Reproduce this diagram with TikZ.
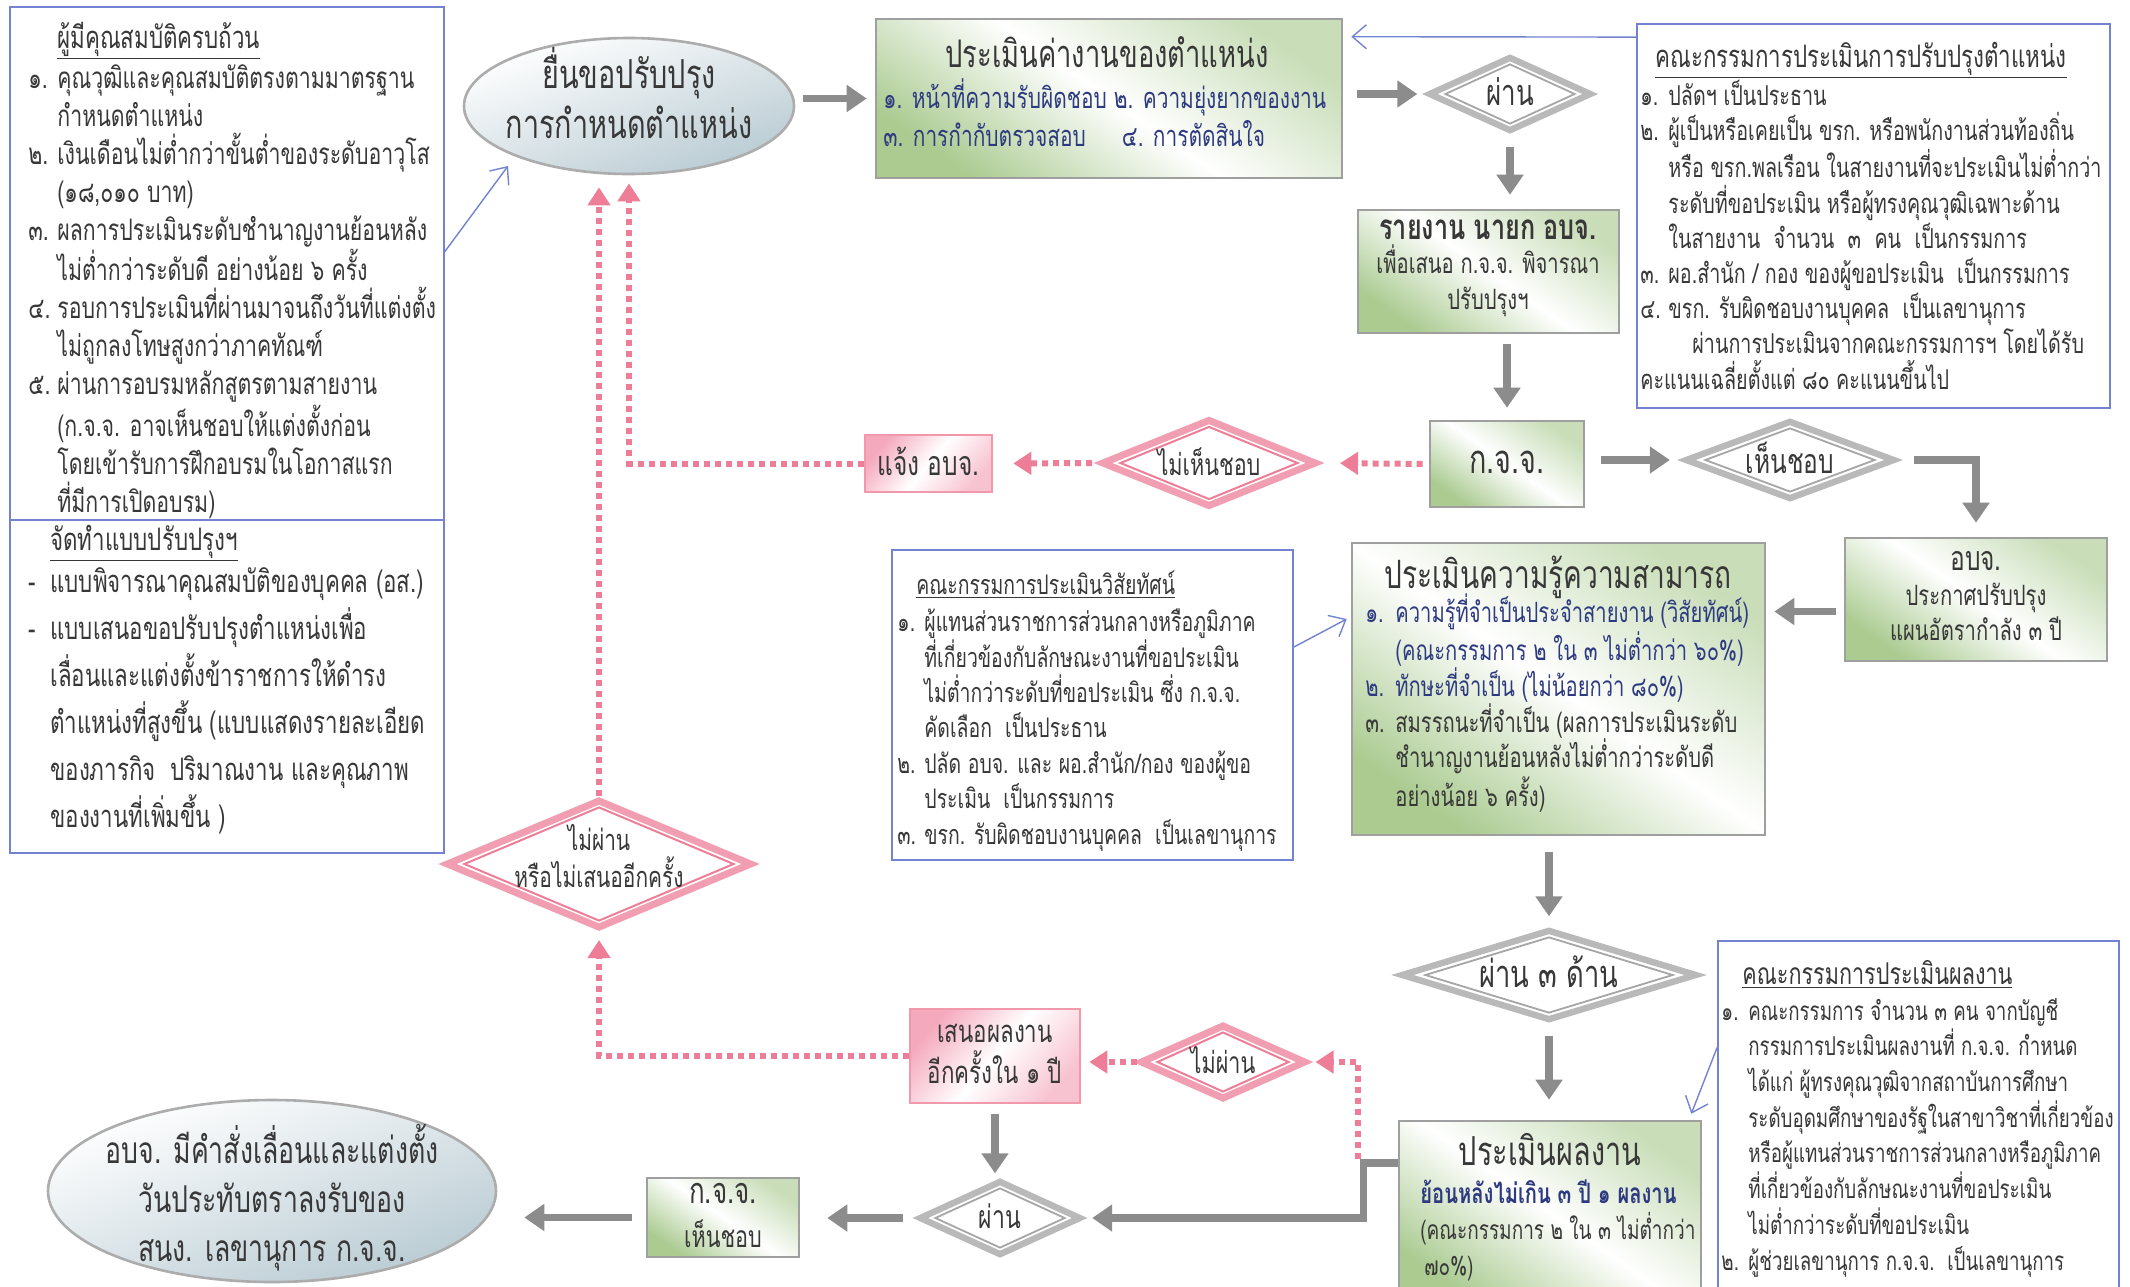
\documentclass[tikz,border=0pt]{standalone}
\usepackage{fontspec}
\newfontfamily\thaiA[Script=Thai,FakeStretch=0.78]{Loma}
\newfontfamily\thaiB[Script=Thai,FakeStretch=0.72]{Loma}
\usetikzlibrary{arrows.meta,shapes.geometric,calc}
\definecolor{boxgreen}{HTML}{9CC27E}
\definecolor{pinkc}{HTML}{EE7E98}
\definecolor{pinkfill}{HTML}{F5A9BD}
\definecolor{blueline}{HTML}{7383D2}
\definecolor{navy}{HTML}{2E3A80}
\definecolor{textgray}{HTML}{383838}
\definecolor{arrowgray}{HTML}{8C8C8C}
\definecolor{ovalc}{HTML}{B9CBD3}
\newcommand{\nb}[2]{\makebox[#1][l]{#2}}
\newcommand{\fs}[2]{\fontsize{#1}{#2}\selectfont}
\begin{document}
\begin{tikzpicture}[x=0.5pt,y=-0.5pt,
 bluebox/.style={draw=blueline, line width=0.9pt, fill=white, inner sep=0pt},
 greenbox/.style={draw=gray!75, line width=1.3pt, top color=boxgreen!55, bottom color=boxgreen!85, middle color=white, shading angle=-35, inner sep=0pt},
 pinkbox/.style={draw=pinkc!80, line width=1.3pt, top color=pinkfill, bottom color=pinkfill!70, middle color=white, shading angle=50, inner sep=0pt},
 ovalbox/.style={ellipse, draw=gray!65, line width=1.3pt, top color=white, bottom color=ovalc, shading angle=20, inner sep=0pt},
 gdiam/.style={diamond, draw=gray!55, line width=3.2pt, fill=white, inner sep=0pt},
 gdiamin/.style={diamond, draw=gray!70, line width=0.9pt, inner sep=0pt},
 pdiam/.style={diamond, draw=pinkc!75, line width=3.5pt, fill=white, inner sep=0pt},
 pdiamin/.style={diamond, draw=pinkc, line width=1pt, inner sep=0pt},
 txt/.style={inner sep=0pt, align=left, text=textgray, anchor=base west},
 ctxt/.style={inner sep=0pt, align=center, text=textgray},
 garrow/.style={draw=arrowgray, line width=3.6pt, -{Triangle[length=10pt,width=13pt]}},
 pdot/.style={draw=pinkc, line width=3pt, dash pattern=on 3pt off 2.5pt, -{Triangle[length=9pt,width=11pt]}},
 barrow/.style={draw=blueline, line width=0.7pt, -{Straight Barb[length=7pt,width=12pt]}}]

\fill[white] (0,0) rectangle (2130,1286);
\path[use as bounding box] (0,0) rectangle (2130,1286);

% ---------- left box ----------
\node[bluebox, minimum width=217pt, minimum height=256.5pt] (lboxA) at (227,263.5) {};
\node[bluebox, minimum width=217pt, minimum height=166.5pt] (lboxB) at (227,686.5) {};
\node[txt, font=\thaiB\fs{15.5}{19.25}] (lAt) at (57,48) {\underline{ผู้มีคุณสมบัติครบถ้วน}};
\node[txt, font=\thaiB\fs{14.8}{19}] (lAl) at (28,512) {%
\nb{14.5pt}{๑.}คุณวุฒิและคุณสมบัติตรงตามมาตรฐาน\\
\hspace*{14.5pt}กำหนดตำแหน่ง\\
\nb{14.5pt}{๒.}เงินเดือนไม่ต่ำกว่าขั้นต่ำของระดับอาวุโส\\
\hspace*{14.5pt}(๑๘,๐๑๐ บาท)\\
\nb{14.5pt}{๓.}ผลการประเมินระดับชำนาญงานย้อนหลัง\\
\hspace*{14.5pt}ไม่ต่ำกว่าระดับดี อย่างน้อย ๖ ครั้ง\\
\nb{14.5pt}{๔.}รอบการประเมินที่ผ่านมาจนถึงวันที่แต่งตั้ง\\
\hspace*{14.5pt}ไม่ถูกลงโทษสูงกว่าภาคทัณฑ์\\
\nb{14.5pt}{๕.}ผ่านการอบรมหลักสูตรตามสายงาน\\
\hspace*{14.5pt}(ก.จ.จ. อาจเห็นชอบให้แต่งตั้งก่อน\\
\hspace*{14.5pt}โดยเข้ารับการฝึกอบรมในโอกาสแรก\\
\hspace*{14.5pt}ที่มีการเปิดอบรม)};
\node[txt, font=\thaiB\fs{15.5}{23.5}] (lBt) at (50,550) {\underline{จัดทำแบบปรับปรุงฯ}};
\node[txt, font=\thaiB\fs{15.5}{23.5}] (lBl) at (28,827) {%
\nb{11pt}{-}แบบพิจารณาคุณสมบัติของบุคคล (อส.)\\
\nb{11pt}{-}แบบเสนอขอปรับปรุงตำแหน่งเพื่อ\\
\hspace*{11pt}เลื่อนและแต่งตั้งข้าราชการให้ดำรง\\
\hspace*{11pt}ตำแหน่งที่สูงขึ้น (แบบแสดงรายละเอียด\\
\hspace*{11pt}ของภารกิจ\ \ ปริมาณงาน และคุณภาพ\\
\hspace*{11pt}ของงานที่เพิ่มขึ้น )};

% ---------- top row ----------
\node[ovalbox, minimum width=165pt, minimum height=68pt] (e1) at (629,106) {};
\node[ctxt, font=\thaiB\fs{20}{25}] (e1t) at (629,93) {ยื่นขอปรับปรุง\\การกำหนดตำแหน่ง};

\node[greenbox, minimum width=233pt, minimum height=79.5pt] (box1) at (1109,98.5) {};
\node[ctxt, font=\thaiB\fs{19}{22}] (box1t) at (1107,52) {ประเมินค่างานของตำแหน่ง};
\node[txt, font=\thaiB\fs{14.5}{19}, text=navy] (box1l) at (883,146) {%
๑. หน้าที่ความรับผิดชอบ ๒. ความยุ่งยากของงาน\\
๓. การกำกับตรวจสอบ\hspace{18pt}๔. การตัดสินใจ};

\node[gdiam, minimum width=81.5pt, minimum height=37.5pt] (d1) at (1510,94) {};
\node[gdiamin, minimum width=65pt, minimum height=30pt] (d1i) at (1510,94) {};
\node[ctxt, font=\thaiB\fs{18}{20}] (d1t) at (1510,92) {ผ่าน};

\node[greenbox, minimum width=130.5pt, minimum height=61.5pt] (box2) at (1488.5,271.5) {};
\node[ctxt, font=\thaiB\fs{14}{18}] (box2t) at (1488,268) {{\fs{17.5}{20}\bfseries รายงาน นายก อบจ.}\\[-1pt] เพื่อเสนอ ก.จ.จ. พิจารณา\\ ปรับปรุงฯ};

\node[greenbox, minimum width=77pt, minimum height=43pt] (box3) at (1507,464) {};
\node[ctxt, font=\thaiB\fs{20}{22}] (box3t) at (1507,462) {ก.จ.จ.};

\node[bluebox, minimum width=236.5pt, minimum height=192pt] (rc1) at (1873.5,216) {};
\node[ctxt, font=\thaiB\fs{15.5}{17.85}, anchor=base] (rc1t) at (1861,67) {\underline{คณะกรรมการประเมินการปรับปรุงตำแหน่ง}};
\node[txt, font=\thaiB\fs{13.7}{17.6}] (rc1l) at (1640,389) {%
\nb{14pt}{๑.}ปลัดฯ เป็นประธาน\\
\nb{14pt}{๒.}ผู้เป็นหรือเคยเป็น ขรก. หรือพนักงานส่วนท้องถิ่น\\
\hspace*{14pt}หรือ ขรก.พลเรือน ในสายงานที่จะประเมินไม่ต่ำกว่า\\
\hspace*{14pt}ระดับที่ขอประเมิน หรือผู้ทรงคุณวุฒิเฉพาะด้าน\\
\hspace*{14pt}ในสายงาน\ \ จำนวน\ \ ๓\ \ คน\ \ เป็นกรรมการ\\
\nb{14pt}{๓.}ผอ.สำนัก / กอง ของผู้ขอประเมิน\ \ เป็นกรรมการ\\
\nb{14pt}{๔.}ขรก. รับผิดชอบงานบุคคล\ \ เป็นเลขานุการ\\
\hspace*{26pt}ผ่านการประเมินจากคณะกรรมการฯ โดยได้รับ\\
คะแนนเฉลี่ยตั้งแต่ ๘๐ คะแนนขึ้นไป};

% ---------- second row ----------
\node[pdiam, minimum width=107.5pt, minimum height=44pt] (d2) at (1209,463) {};
\node[pdiamin, minimum width=89pt, minimum height=36.5pt] (d2i) at (1209,463) {};
\node[ctxt, font=\thaiB\fs{15}{18}] (d2t) at (1209,462) {ไม่เห็นชอบ};

\node[pinkbox, minimum width=63.5pt, minimum height=28.5pt] (b4) at (928.5,463.5) {};
\node[ctxt, font=\thaiB\fs{17}{20}] (b4t) at (928.5,461) {แจ้ง อบจ.};

\node[gdiam, minimum width=105pt, minimum height=39.5pt] (d4) at (1790,460) {};
\node[gdiamin, minimum width=85pt, minimum height=32pt] (d4i) at (1790,460) {};
\node[ctxt, font=\thaiB\fs{17}{20}] (d4t) at (1790,458) {เห็นชอบ};

\node[greenbox, minimum width=131pt, minimum height=61.5pt] (box5) at (1976,599.5) {};
\node[ctxt, font=\thaiB\fs{14}{17.5}] (box5t) at (1976,596) {{\fs{17}{19}อบจ.}\\ ประกาศปรับปรุง\\ แผนอัตรากำลัง ๓ ปี};

% ---------- knowledge ----------
\node[greenbox, minimum width=206.5pt, minimum height=146pt] (kb) at (1558.5,689) {};
\node[ctxt, font=\thaiB\fs{19.5}{22}] (kbt) at (1558,577) {ประเมินความรู้ความสามารถ};
\node[txt, font=\thaiB\fs{14}{17.9}] (kbl) at (1365,806) {%
{\color{navy}\nb{15pt}{๑.}ความรู้ที่จำเป็นประจำสายงาน (วิสัยทัศน์)}\\
{\color{navy}\hspace*{15pt}(คณะกรรมการ ๒ ใน ๓ ไม่ต่ำกว่า ๖๐\%)}\\
{\color{navy}\nb{15pt}{๒.}ทักษะที่จำเป็น (ไม่น้อยกว่า ๘๐\%)}\\
\nb{15pt}{๓.}สมรรถนะที่จำเป็น (ผลการประเมินระดับ\\
\hspace*{15pt}ชำนาญงานย้อนหลังไม่ต่ำกว่าระดับดี\\
\hspace*{15pt}อย่างน้อย ๖ ครั้ง)};

\node[bluebox, minimum width=200.5pt, minimum height=155pt] (vc) at (1092.5,705) {};
\node[txt, font=\thaiB\fs{13.5}{17.7}] (vct) at (916,594) {\underline{คณะกรรมการประเมินวิสัยทัศน์}};
\node[txt, font=\thaiB\fs{13.5}{17.7}] (vcl) at (897,844) {%
\nb{13.5pt}{๑.}ผู้แทนส่วนราชการส่วนกลางหรือภูมิภาค\\
\hspace*{13.5pt}ที่เกี่ยวข้องกับลักษณะงานที่ขอประเมิน\\
\hspace*{13.5pt}ไม่ต่ำกว่าระดับที่ขอประเมิน ซึ่ง ก.จ.จ.\\
\hspace*{13.5pt}คัดเลือก\ \ เป็นประธาน\\
\nb{13.5pt}{๒.}ปลัด อบจ. และ ผอ.สำนัก/กอง ของผู้ขอ\\
\hspace*{13.5pt}ประเมิน\ \ เป็นกรรมการ\\
\nb{13.5pt}{๓.}ขรก. รับผิดชอบงานบุคคล\ \ เป็นเลขานุการ};

\node[gdiam, minimum width=148pt, minimum height=45.5pt] (d5) at (1549,975) {};
\node[gdiamin, minimum width=124pt, minimum height=38pt] (d5i) at (1549,975) {};
\node[ctxt, font=\thaiB\fs{19}{22}] (d5t) at (1549,972) {ผ่าน ๓ ด้าน};

% ---------- bottom ----------
\node[greenbox, minimum width=151pt, minimum height=92pt] (pb) at (1550,1213) {};
\node[ctxt, font=\thaiB\fs{20}{22}] (pbt) at (1550,1150) {ประเมินผลงาน};
\node[txt, font=\thaiB\fs{13.2}{18}] (pbl) at (1420,1275) {%
{\color{navy}\fs{14}{18}\bfseries ย้อนหลังไม่เกิน ๓ ปี ๑ ผลงาน}\\
(คณะกรรมการ ๒ ใน ๓ ไม่ต่ำกว่า\\
\hspace*{2pt}๗๐\%)};

\node[bluebox, minimum width=200.5pt, minimum height=180pt] (pc) at (1918.5,1121) {};
\node[txt, font=\thaiB\fs{15}{17.85}] (pct) at (1742,984) {\underline{คณะกรรมการประเมินผลงาน}};
\node[txt, font=\thaiB\fs{13}{17.85}] (pcl) at (1721,1270) {%
\nb{13.5pt}{๑.}คณะกรรมการ จำนวน ๓ คน จากบัญชี\\
\hspace*{13.5pt}กรรมการประเมินผลงานที่ ก.จ.จ. กำหนด\\
\hspace*{13.5pt}ได้แก่ ผู้ทรงคุณวุฒิจากสถาบันการศึกษา\\
\hspace*{13.5pt}ระดับอุดมศึกษาของรัฐในสาขาวิชาที่เกี่ยวข้อง\\
\hspace*{13.5pt}หรือผู้แทนส่วนราชการส่วนกลางหรือภูมิภาค\\
\hspace*{13.5pt}ที่เกี่ยวข้องกับลักษณะงานที่ขอประเมิน\\
\hspace*{13.5pt}ไม่ต่ำกว่าระดับที่ขอประเมิน\\
\nb{13.5pt}{๒.}ผู้ช่วยเลขานุการ ก.จ.จ.\ \ เป็นเลขานุการ};

\node[pdiam, minimum width=83pt, minimum height=37.5pt] (d7) at (1223,1062) {};
\node[pdiamin, minimum width=66pt, minimum height=30pt] (d7i) at (1223,1062) {};
\node[ctxt, font=\thaiB\fs{15}{18}] (d7t) at (1223,1060) {ไม่ผ่าน};

\node[pinkbox, minimum width=85pt, minimum height=47pt] (b6) at (995,1056) {};
\node[ctxt, font=\thaiB\fs{15.5}{20.5}] (b6t) at (995,1054) {เสนอผลงาน\\อีกครั้งใน ๑ ปี};

\node[gdiam, minimum width=81pt, minimum height=37.5pt] (d6) at (1000,1218) {};
\node[gdiamin, minimum width=65pt, minimum height=30pt] (d6i) at (1000,1218) {};
\node[ctxt, font=\thaiB\fs{16}{18}] (d6t) at (1000,1216) {ผ่าน};

\node[greenbox, minimum width=76pt, minimum height=39.5pt] (b7) at (723,1217.5) {};
\node[ctxt, font=\thaiB\fs{15}{22}] (b7t) at (723,1215) {{\fs{18}{22}ก.จ.จ.}\\ เห็นชอบ};

\node[ovalbox, minimum width=224pt, minimum height=91pt] (e2) at (272,1191) {};
\node[ctxt, font=\thaiB\fs{18.5}{24.5}] (e2t) at (272,1198) {อบจ. มีคำสั่งเลื่อนและแต่งตั้ง\\ วันประทับตราลงรับของ\\ สนง. เลขานุการ ก.จ.จ.};

\node[pdiam, minimum width=153pt, minimum height=64.5pt] (d3) at (599,864) {};
\node[pdiamin, minimum width=135pt, minimum height=57pt] (d3i) at (599,864) {};
\node[ctxt, font=\thaiB\fs{14.5}{18.5}] (d3t) at (599,856) {ไม่ผ่าน\\หรือไม่เสนออีกครั้ง};

% ---------- connectors ----------
\draw[garrow, shorten <=4pt, shorten >=4pt] (e1.east |- box1.west) -- (box1.west);
\draw[garrow, shorten <=7pt, shorten >=4pt] (box1.east |- d1.west) -- (d1.west);
\draw[garrow, shorten <=6pt, shorten >=7pt] (d1.south) -- (d1.south |- box2.north);
\draw[garrow, shorten <=5pt, shorten >=6pt] (box3.north |- box2.south) -- (box3.north);
\draw[barrow] ([yshift=-7pt]rc1.north west) -- ([yshift=-9.5pt,xshift=4pt]box1.north east);
\draw[pdot, shorten <=3pt, shorten >=10pt] (box3.west) -- (d2.east);
\draw[pdot, shorten <=3pt, shorten >=10pt] (d2.west) -- (b4.east);
\draw[pdot, shorten >=4pt] (b4.west) -| (e1.south);
\draw[pdot, shorten >=6pt] (d3.north) -- (d3.north |- e1.south);
\draw[garrow, shorten <=8pt, shorten >=6pt] (box3.east |- d4.west) -- (d4.west);
\draw[garrow, shorten <=8pt, shorten >=7pt] (d4.east) -| (box5.north);
\path ([yshift=-6pt]box5.west) coordinate (k1);
\draw[garrow, shorten <=4pt, shorten >=4pt] (k1) -- (k1 -| kb.east);
\draw[barrow] ([yshift=29pt]vc.east) -- ([yshift=35pt,xshift=-2pt]kb.west);
\draw[garrow, shorten <=8pt, shorten >=5pt] (d5.north |- kb.south) -- (d5.north);
\draw[garrow, shorten <=6pt, shorten >=10pt] (d5.south) -- (d5.south |- pb.north);
\draw[barrow] ([yshift=36.75pt]pc.west) -- ([xshift=-5.5pt,yshift=3pt]pb.north east);
\draw[garrow, shorten >=4pt] ([yshift=25pt]pb.west) -- ++(-34,0) |- (d6.east);
\path ([xshift=-20pt,yshift=27pt]pb.west) coordinate (pbl0);
\draw[pdot, shorten >=3pt] (pbl0) |- (d7.east);
\draw[pdot, shorten >=4pt] (d7.west) -- (d7.west -| b6.east);
\draw[pdot, shorten >=4pt] (b6.west) -| (d3.south);
\draw[garrow, shorten <=5pt, shorten >=2pt] (b6.south) -- (b6.south |- d6.north);
\draw[garrow, shorten <=6.5pt, shorten >=13.5pt] (d6.west) -- (d6.west -| b7.east);
\draw[garrow, shorten <=7pt, shorten >=13.5pt] (b7.west) -- (b7.west -| e2.east);
\coordinate (e1in) at (508,166);
\draw[barrow] ([yshift=6pt]lboxA.east) -- (e1in);
\end{tikzpicture}
\end{document}
